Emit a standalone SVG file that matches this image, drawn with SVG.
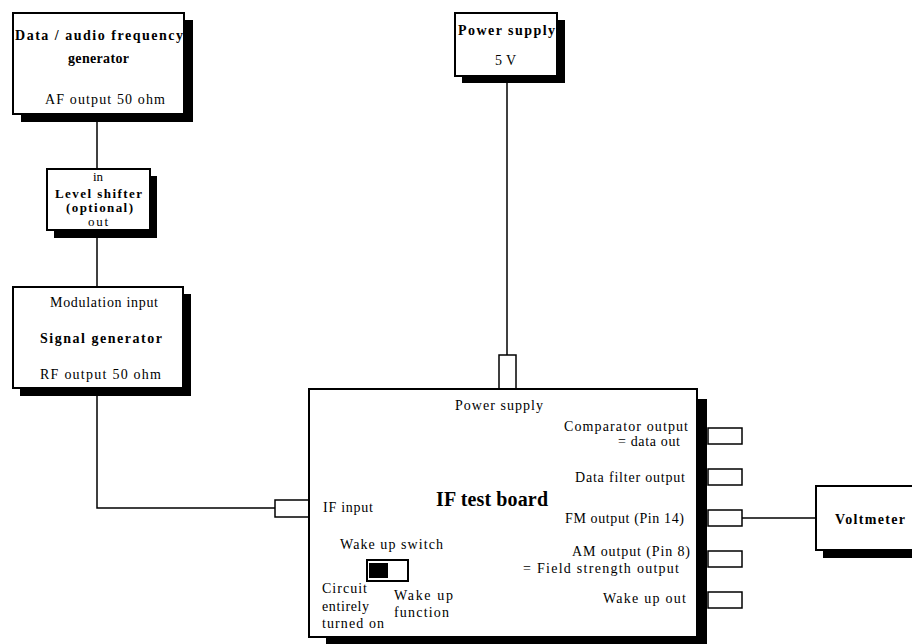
<svg xmlns="http://www.w3.org/2000/svg" width="912" height="644" viewBox="0 0 912 644">
<style>
.box{fill:#fff;stroke:#000;stroke-width:2}
.sh{fill:#000}
.port{fill:#fff;stroke:#000;stroke-width:1.5}
.wire{fill:none;stroke:#000;stroke-width:1.5}
text{font-family:"Liberation Serif","Times New Roman",serif;font-size:14px;fill:#000}
.b{font-weight:bold}
.s{font-size:13px}
.big{font-weight:bold;font-size:20px}
</style>
<rect width="912" height="644" fill="#fff"/>
<g id="connectors">
<line class="wire" x1="97" y1="122" x2="97" y2="169"/>
<line class="wire" x1="97" y1="238" x2="97" y2="287"/>
<polyline class="wire" points="97,396 97,508 275,508"/>
<line class="wire" x1="507" y1="83" x2="507" y2="355"/>
<line class="wire" x1="742" y1="518" x2="816" y2="518"/>
</g>
<g id="af-generator">
<rect class="sh" x="21" y="20" width="172" height="102"/>
<rect class="box" x="13" y="13" width="171" height="101"/>
<text class="b" x="15" y="40" textLength="168">Data / audio frequency</text>
<text class="b" x="68" y="63" textLength="61">generator</text>
<text x="45" y="104" textLength="120">AF output 50 ohm</text>
</g>
<g id="level-shifter">
<rect class="sh" x="54" y="176" width="103" height="62"/>
<rect class="box" x="47" y="169" width="103" height="61"/>
<text class="s" x="93" y="181">in</text>
<text class="b s" x="55" y="198" textLength="87">Level shifter</text>
<text class="b s" x="66" y="212" textLength="67">(optional)</text>
<text class="s" x="88" y="226" textLength="20">out</text>
</g>
<g id="signal-generator">
<rect class="sh" x="20" y="294" width="171" height="102"/>
<rect class="box" x="13" y="287" width="170" height="101"/>
<text x="50" y="307" textLength="108">Modulation input</text>
<text class="b" x="40" y="343" textLength="122">Signal generator</text>
<text x="40" y="379" textLength="121">RF output 50 ohm</text>
</g>
<g id="power-supply">
<rect class="sh" x="462" y="20" width="103" height="63"/>
<rect class="box" x="455" y="13" width="102" height="63"/>
<text class="b" x="458" y="35" textLength="97">Power supply</text>
<text x="495" y="65" textLength="21">5 V</text>
</g>
<g id="if-test-board">
<rect class="port" x="499" y="355" width="17" height="34"/>
<rect class="port" x="275" y="500" width="35" height="17"/>
<rect class="sh" x="326" y="399" width="381" height="245"/>
<rect class="box" x="309" y="389" width="388" height="248"/>
<rect class="port" x="708" y="428" width="34" height="16"/>
<rect class="port" x="708" y="469" width="34" height="16"/>
<rect class="port" x="708" y="510" width="34" height="16"/>
<rect class="port" x="708" y="551" width="34" height="16"/>
<rect class="port" x="708" y="592" width="34" height="16"/>
<text x="455" y="410" textLength="88">Power supply</text>
<text x="564" y="431" textLength="124">Comparator output</text>
<text x="618" y="446" textLength="62">= data out</text>
<text x="575" y="482" textLength="110">Data filter output</text>
<text class="big" x="436" y="506" textLength="112">IF test board</text>
<text x="323" y="512" textLength="50">IF input</text>
<text x="565" y="523" textLength="119">FM output  (Pin 14)</text>
<text x="340" y="549" textLength="103">Wake up switch</text>
<text x="572" y="556" textLength="118">AM output  (Pin 8)</text>
<text x="523" y="573" textLength="156">= Field strength output</text>
<rect x="367" y="560" width="41" height="21" fill="#fff" stroke="#000" stroke-width="2"/>
<rect x="369" y="563" width="19" height="15" fill="#000"/>
<text x="322" y="593" textLength="45">Circuit</text>
<text x="394" y="600" textLength="59">Wake up</text>
<text x="603" y="603" textLength="83">Wake up out</text>
<text x="322" y="611" textLength="47">entirely</text>
<text x="394" y="617" textLength="55">function</text>
<text x="322" y="628" textLength="62">turned on</text>
</g>
<g id="voltmeter">
<rect class="sh" x="823" y="493" width="95" height="65"/>
<rect class="box" x="816" y="486" width="100" height="64"/>
<text class="b" x="835" y="524" textLength="70">Voltmeter</text>
</g>
</svg>
